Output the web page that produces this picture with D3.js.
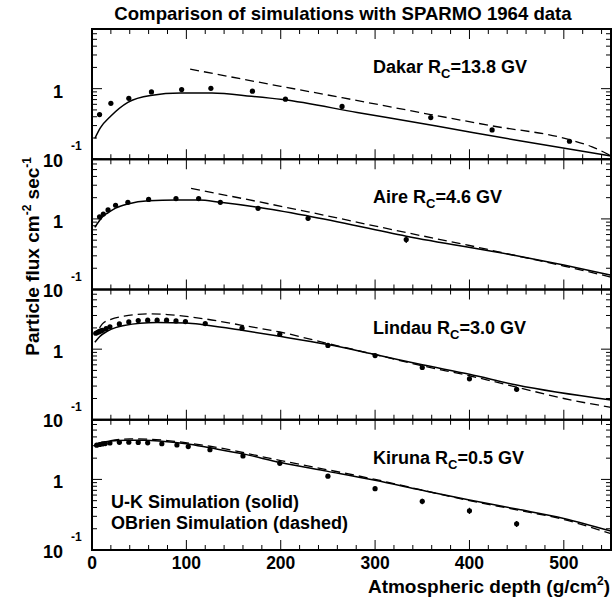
<!DOCTYPE html>
<html>
<head>
<meta charset="utf-8">
<script src="https://cdn.jsdelivr.net/npm/d3@7"></script>
<style>
  body { margin: 0; background: #fff; }
  text { font-family: 'Liberation Sans', Arial, Helvetica, sans-serif; font-weight: bold; fill: #000; }
</style>
</head>
<body>
<svg id="chart"></svg>
<script>
// station names and cutoff rigidities (GV)
const stations = ['Dakar', 'Aire', 'Lindau', 'Kiruna'];
const cutoffs = ['13.8', '4.6', '3.0', '0.5'];
const xTickLabels = [0, 100, 200, 300, 400, 500];

// SPARMO 1964 measurements: depth (g/cm2), flux, relative error
const dakarDepth = [8, 20, 39, 63, 95, 126, 170, 205, 265, 359, 424, 506];
const dakarFlux = [0.43, 0.62, 0.73, 0.90, 0.97, 1.01, 0.92, 0.71, 0.56, 0.39, 0.26, 0.18];
const dakarErr = [0.02, 0.02, 0.02, 0.02, 0.02, 0.02, 0.02, 0.02, 0.02, 0.03, 0.03, 0.03];

const aireDepth = [8, 12, 17, 25, 38, 60, 89, 113, 136, 176, 229, 333];
const aireFlux = [1.07, 1.17, 1.34, 1.56, 1.72, 1.89, 1.94, 1.94, 1.72, 1.41, 1.02, 0.51];
const aireErr = [0.02, 0.02, 0.02, 0.02, 0.02, 0.02, 0.02, 0.02, 0.03, 0.05, 0.08, 0.11];

const lindauDepth = [4, 6, 7.5, 9, 11, 15, 19, 29, 39, 49, 59, 69, 79, 89, 99, 120, 159, 199, 250, 300, 350, 400, 450];
const lindauFlux = [1.68, 1.73, 1.77, 1.81, 1.85, 1.95, 2.07, 2.28, 2.43, 2.54, 2.57, 2.57, 2.57, 2.51, 2.46, 2.30, 1.98, 1.62, 1.13, 0.81, 0.55, 0.38, 0.27];
const lindauErr = [0.02, 0.02, 0.02, 0.02, 0.02, 0.02, 0.02, 0.02, 0.02, 0.02, 0.02, 0.02, 0.02, 0.02, 0.02, 0.03, 0.04, 0.05, 0.05, 0.05, 0.06, 0.07, 0.07];

const kirunaDepth = [5, 8, 11, 14, 19, 29, 39, 49, 59, 74, 90, 102, 125, 160, 199, 250, 300, 350, 400, 450];
const kirunaFlux = [3.05, 3.12, 3.18, 3.22, 3.28, 3.35, 3.36, 3.34, 3.30, 3.20, 3.07, 2.92, 2.63, 2.15, 1.69, 1.11, 0.74, 0.49, 0.36, 0.235];
const kirunaErr = [0.02, 0.02, 0.02, 0.02, 0.02, 0.02, 0.02, 0.02, 0.02, 0.02, 0.02, 0.02, 0.03, 0.03, 0.04, 0.06, 0.07, 0.09, 0.1, 0.1];

// U-K simulation (solid) [depth, flux]
const dakarSolid = [[3, 0.197], [9, 0.28], [20, 0.41], [38, 0.64], [62, 0.80], [94, 0.865], [127, 0.865], [169, 0.78], [202, 0.70], [281, 0.46], [365, 0.295], [450, 0.186], [550, 0.111]];
const aireSolid = [[3, 0.76], [8, 0.95], [12, 1.1], [17, 1.22], [25, 1.42], [38, 1.63], [60, 1.81], [89, 1.85], [113, 1.85], [136, 1.72], [176, 1.46], [229, 1.10], [333, 0.57], [450, 0.30], [500, 0.222], [550, 0.16]];
const lindauSolid = [[3, 1.25], [8, 1.5], [16, 1.79], [25, 2.02], [34, 2.16], [51, 2.33], [69, 2.38], [100, 2.35], [120, 2.20], [159, 1.85], [199, 1.52], [250, 1.16], [300, 0.84], [350, 0.60], [400, 0.44], [450, 0.31], [550, 0.19]];
const kirunaSolid = [[2, 3.0], [10, 3.3], [20, 3.5], [37, 3.6], [55, 3.58], [71, 3.5], [100, 3.2], [125, 2.8], [160, 2.3], [200, 1.73], [250, 1.3], [300, 0.97], [350, 0.70], [400, 0.51], [450, 0.38], [500, 0.28], [550, 0.185]];

// OBrien simulation (dashed) [depth, flux]
const dakarDashed = [[104, 1.89], [200, 1.08], [265, 0.745], [359, 0.43], [424, 0.297], [506, 0.19], [530, 0.15], [550, 0.112]];
const aireDashed = [[105, 2.71], [229, 1.26], [333, 0.64], [400, 0.42], [450, 0.30], [500, 0.215], [550, 0.15]];
const lindauDashed = [[8, 2.0], [11, 2.28], [20, 2.65], [34, 2.93], [59, 3.16], [80, 3.09], [120, 2.68], [159, 2.18], [199, 1.75], [250, 1.2], [300, 0.84], [350, 0.58], [400, 0.42], [450, 0.29], [500, 0.2], [550, 0.15]];
const kirunaDashed = [[5, 3.15], [20, 3.55], [40, 3.75], [60, 3.72], [80, 3.55], [125, 2.95], [200, 1.85], [300, 1.0], [400, 0.5], [450, 0.37], [500, 0.27], [550, 0.17]];

const panels = [
  { depth: dakarDepth, flux: dakarFlux, err: dakarErr, solid: dakarSolid, dashed: dakarDashed },
  { depth: aireDepth, flux: aireFlux, err: aireErr, solid: aireSolid, dashed: aireDashed },
  { depth: lindauDepth, flux: lindauFlux, err: lindauErr, solid: lindauSolid, dashed: lindauDashed },
  { depth: kirunaDepth, flux: kirunaFlux, err: kirunaErr, solid: kirunaSolid, dashed: kirunaDashed }
];

const [width, height] = [616, 600];
const plotLeft = 92, plotRight = 611, plotTop = 29, panelH = 130.25;

let svg = d3.select('#chart')
  .attr('width', width)
  .attr('height', height);

let x = d3.scaleLinear().domain([0, 550]).range([plotLeft, plotRight]);

// minor / major tick values
let xTicks = d3.range(0, 550, 20);
let yTicks = d3.range(1, 10).map(d => d / 10).concat(d3.range(1, 8));

svg.append('text')
  .attr('x', 343)
  .attr('y', 20)
  .attr('text-anchor', 'middle')
  .style('font-size', '18.6px')
  .text('Comparison of simulations with SPARMO 1964 data');

panels.forEach(function(p, i) {
  let t = plotTop + i * panelH;
  let b = t + panelH;
  let y = d3.scaleLog().domain([0.1, 7]).range([b, t]);
  let g = svg.append('g');

  g.append('clipPath').attr('id', 'clip' + i)
    .append('rect').attr('x', plotLeft).attr('y', t).attr('width', plotRight - plotLeft).attr('height', panelH);

  // x ticks, top and bottom of each panel
  g.selectAll('.xt')
    .data(xTicks)
    .enter()
    .append('path')
    .attr('d', function(d) {
      let len = d % 100 === 0 ? 10 : 5;
      let px = x(d);
      return 'M' + px + ',' + b + 'V' + (b - len) + 'M' + px + ',' + t + 'V' + (t + len);
    })
    .attr('stroke', '#000')
    .attr('stroke-width', 1);

  // y ticks, left and right
  g.selectAll('.yt')
    .data(yTicks)
    .enter()
    .append('path')
    .attr('d', function(d) {
      let len = (d === 0.1 || d === 1) ? 10 : 5;
      let py = y(d);
      return 'M' + plotLeft + ',' + py + 'H' + (plotLeft + len) + 'M' + plotRight + ',' + py + 'H' + (plotRight - len);
    })
    .attr('stroke', '#000')
    .attr('stroke-width', 1);

  g.append('rect')
    .attr('x', plotLeft)
    .attr('y', t)
    .attr('width', plotRight - plotLeft)
    .attr('height', panelH)
    .attr('fill', 'none')
    .attr('stroke', '#000')
    .attr('stroke-width', 2);

  // y labels
  g.append('text')
    .attr('x', 63)
    .attr('y', y(1) + 9)
    .attr('text-anchor', 'end')
    .style('font-size', '18px')
    .text('1');
  g.append('text')
    .attr('x', 63)
    .attr('y', b + 7.5)
    .attr('text-anchor', 'end')
    .style('font-size', '18px')
    .text('10');
  g.append('text')
    .attr('x', 71)
    .attr('y', b - 9)
    .style('font-size', '12px')
    .text('-1');

  let line = d3.line()
    .x(d => x(d[0]))
    .y(d => y(d[1]))
    .curve(d3.curveMonotoneX);

  let curves = g.append('g').attr('clip-path', 'url(#clip' + i + ')');
  curves.append('path')
    .attr('d', line(p.solid))
    .attr('fill', 'none')
    .attr('stroke', '#000')
    .attr('stroke-width', 1.5);
  curves.append('path')
    .attr('d', line(p.dashed))
    .attr('fill', 'none')
    .attr('stroke', '#000')
    .attr('stroke-width', 1.3)
    .attr('stroke-dasharray', '9,5');

  // data points with error bars
  let pts = p.depth.map((d, k) => ({ d: d, f: p.flux[k], e: p.err[k] }));
  curves.selectAll('line.err')
    .data(pts)
    .enter()
    .append('line')
    .attr('x1', d => x(d.d))
    .attr('x2', d => x(d.d))
    .attr('y1', d => y(d.f * (1 - d.e)))
    .attr('y2', d => y(d.f * (1 + d.e)))
    .attr('stroke', '#000')
    .attr('stroke-width', 1.2);
  curves.selectAll('circle')
    .data(pts)
    .enter()
    .append('circle')
    .attr('cx', d => x(d.d))
    .attr('cy', d => y(d.f))
    .attr('r', 2.6)
    .attr('fill', '#000');

  // station label
  let lab = g.append('text')
    .attr('x', 373)
    .attr('y', t + 44)
    .style('font-size', '18px');
  lab.append('tspan').text(stations[i] + ' R');
  lab.append('tspan').attr('dy', 5).style('font-size', '13px').text('C');
  lab.append('tspan').attr('dy', -5).text('=' + cutoffs[i] + ' GV');
});

// x tick labels
svg.append('g')
  .selectAll('text')
  .data(xTickLabels)
  .enter()
  .append('text')
  .attr('x', d => x(d))
  .attr('y', 569)
  .attr('text-anchor', 'middle')
  .style('font-size', '17.5px')
  .text(d => d);

// axis titles
let xt = svg.append('text')
  .attr('x', 610)
  .attr('y', 593)
  .attr('text-anchor', 'end')
  .style('font-size', '19px');
xt.append('tspan').text('Atmospheric depth (g/cm');
xt.append('tspan').attr('dy', -8).style('font-size', '12px').text('2');
xt.append('tspan').attr('dy', 8).text(')');

let yt = svg.append('text')
  .attr('transform', 'translate(39,157) rotate(-90)')
  .attr('text-anchor', 'end')
  .style('font-size', '19px');
yt.append('tspan').text('Particle flux cm');
yt.append('tspan').attr('dy', -8).style('font-size', '12px').text('-2');
yt.append('tspan').attr('dy', 8).text(' sec');
yt.append('tspan').attr('dy', -8).style('font-size', '12px').text('-1');

// legend
svg.append('text').attr('x', 111).attr('y', 508).style('font-size', '18px').text('U-K Simulation (solid)');
svg.append('text').attr('x', 111).attr('y', 529).style('font-size', '18px').text('OBrien Simulation (dashed)');
</script>
</body>
</html>
